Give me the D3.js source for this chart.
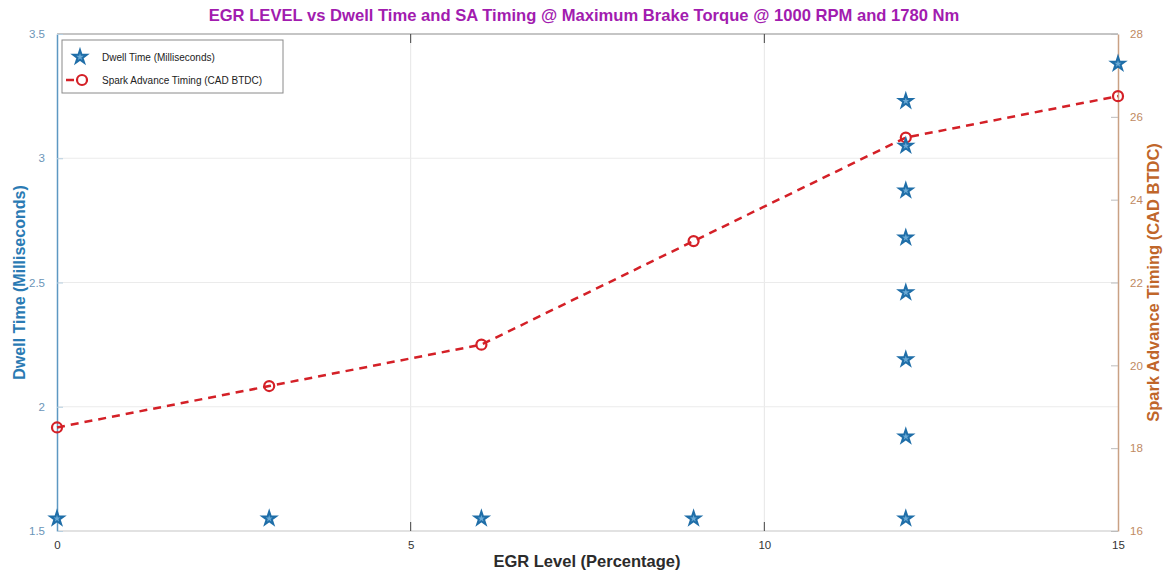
<!DOCTYPE html>
<html>
<head>
<meta charset="utf-8">
<script src="https://cdn.jsdelivr.net/npm/d3@7/dist/d3.min.js"></script>
<style>
  html, body { margin: 0; padding: 0; background: #fff; }
  svg { display: block; font-family: "Liberation Sans", Arial, sans-serif; }
</style>
</head>
<body>
<svg id="chart" width="1168" height="573"></svg>
<script>
// EGR level (%) for the dwell time samples
const dwellEgr = [0, 3, 6, 9, 12, 12, 12, 12, 12, 12, 12, 12, 15];
// Dwell time (ms)
const dwellTime = [1.55, 1.55, 1.55, 1.55, 1.55, 1.88, 2.19, 2.46, 2.68, 2.87, 3.05, 3.23, 3.38];
// EGR level (%) for spark advance
const saEgr = [0, 3, 6, 9, 12, 15];
// Spark advance timing (CAD BTDC)
const saTiming = [18.5, 19.5, 20.5, 23, 25.5, 26.5];

const xTicks = [0, 5, 10, 15];
const leftTicks = [1.5, 2, 2.5, 3, 3.5];
const rightTicks = [16, 18, 20, 22, 24, 26, 28];

const svg = d3.select("#chart");
const plot = { left: 57, right: 1118, top: 34, bottom: 531 };

const x = d3.scaleLinear().domain([0, 15]).range([plot.left, plot.right]);
const yL = d3.scaleLinear().domain([1.5, 3.5]).range([plot.bottom, plot.top]);
const yR = d3.scaleLinear().domain([16, 28]).range([plot.bottom, plot.top]);

const blue = "#1f6ea8";
const starFill = "#6aaad6";
const leftAxisCol = "#5d98c2";
const rightAxisCol = "#c9a184";
const orange = "#c0662a";
const red = "#d42027";

// grid
const grid = svg.append("g");
grid.selectAll("line.gx").data(xTicks.filter(d => d > 0 && d < 15)).join("line")
  .attr("x1", d => x(d)).attr("x2", d => x(d))
  .attr("y1", plot.top).attr("y2", plot.bottom)
  .attr("stroke", "#e6e6e6").attr("stroke-width", 1);
grid.selectAll("line.gy").data(leftTicks.filter(d => d > 1.5 && d < 3.5)).join("line")
  .attr("x1", plot.left).attr("x2", plot.right)
  .attr("y1", d => yL(d)).attr("y2", d => yL(d))
  .attr("stroke", "#ebebeb").attr("stroke-width", 1);

// frame: top and bottom
svg.append("line").attr("x1", plot.left).attr("x2", plot.right)
  .attr("y1", plot.top).attr("y2", plot.top).attr("stroke", "#8c8c8c").attr("stroke-width", 1.2);
svg.append("line").attr("x1", plot.left).attr("x2", plot.right)
  .attr("y1", plot.bottom).attr("y2", plot.bottom).attr("stroke", "#d9d9d9").attr("stroke-width", 1.5);

// x axis
const xAxis = d3.axisBottom(x).tickValues(xTicks).tickSize(0).tickPadding(10).tickFormat(d3.format("d"));
const gx = svg.append("g").attr("transform", `translate(0,${plot.bottom})`).call(xAxis);
gx.select(".domain").remove();
gx.selectAll("text").attr("font-size", 11.5).attr("fill", "#333");
// short inward x ticks at top and bottom
svg.selectAll("line.xt").data(xTicks.filter(d => d > 0 && d < 15)).join("line")
  .attr("x1", d => x(d)).attr("x2", d => x(d))
  .attr("y1", plot.bottom).attr("y2", plot.bottom - 9)
  .attr("stroke", "#444").attr("stroke-width", 1);
svg.selectAll("line.xt2").data(xTicks.filter(d => d > 0 && d < 15)).join("line")
  .attr("x1", d => x(d)).attr("x2", d => x(d))
  .attr("y1", plot.top).attr("y2", plot.top + 9)
  .attr("stroke", "#444").attr("stroke-width", 1);

// left axis
const lAxis = d3.axisLeft(yL).tickValues(leftTicks).tickSizeInner(-6).tickSizeOuter(0).tickPadding(12)
  .tickFormat(d3.format("~g"));
const gl = svg.append("g").attr("transform", `translate(${plot.left},0)`).call(lAxis);
gl.select(".domain").attr("stroke", leftAxisCol).attr("stroke-width", 1.5);
gl.selectAll(".tick line").attr("stroke", "#b7cfe0");
gl.selectAll("text").attr("font-size", 11.5).attr("fill", "#6b95b8");

// right axis
const rAxis = d3.axisRight(yR).tickValues(rightTicks).tickSizeInner(-7).tickSizeOuter(0).tickPadding(12);
const gr = svg.append("g").attr("transform", `translate(${plot.right},0)`).call(rAxis);
gr.select(".domain").attr("stroke", rightAxisCol).attr("stroke-width", 1.5);
gr.selectAll(".tick line").attr("stroke", "#bcbcbc");
gr.selectAll("text").attr("font-size", 11.5).attr("fill", "#c08a62");

// spark advance line
const line = d3.line().x((d, i) => x(saEgr[i])).y(d => yR(d));
svg.append("path").datum(saTiming)
  .attr("d", line).attr("fill", "none")
  .attr("stroke", red).attr("stroke-width", 2.5)
  .attr("stroke-dasharray", "8,6");
svg.selectAll("circle.sa").data(saTiming).join("circle")
  .attr("cx", (d, i) => x(saEgr[i])).attr("cy", d => yR(d))
  .attr("r", 5).attr("fill", "none").attr("stroke", red).attr("stroke-width", 2.2);

// dwell time stars
const star = d3.symbol().type(d3.symbolStar).size(55);
svg.selectAll("path.dw").data(dwellTime).join("path")
  .attr("d", star)
  .attr("transform", (d, i) => `translate(${x(dwellEgr[i])},${yL(d)})`)
  .attr("fill", starFill).attr("stroke", blue).attr("stroke-width", 2);

// legend
const lg = svg.append("g").attr("transform", "translate(62,40)");
lg.append("rect").attr("width", 221).attr("height", 53)
  .attr("fill", "#fff").attr("stroke", "#8a8a8a").attr("stroke-width", 1);
lg.append("path").attr("d", star).attr("transform", "translate(18,17)")
  .attr("fill", starFill).attr("stroke", blue).attr("stroke-width", 2);
lg.append("text").attr("x", 40).attr("y", 21).attr("font-size", 10).attr("fill", "#222")
  .text("Dwell Time (Milliseconds)");
lg.append("line").attr("x1", 4).attr("x2", 30).attr("y1", 40).attr("y2", 40)
  .attr("stroke", red).attr("stroke-width", 2.5).attr("stroke-dasharray", "8,6");
lg.append("circle").attr("cx", 20).attr("cy", 40).attr("r", 5)
  .attr("fill", "#fff").attr("stroke", red).attr("stroke-width", 2.2);
lg.append("text").attr("x", 40).attr("y", 44).attr("font-size", 10).attr("fill", "#222")
  .text("Spark Advance Timing (CAD BTDC)");

// titles
svg.append("text").attr("x", 584).attr("y", 21).attr("text-anchor", "middle")
  .attr("font-size", 16.6).attr("font-weight", "bold").attr("fill", "#a21caf")
  .text("EGR LEVEL vs Dwell Time and SA Timing @ Maximum Brake Torque @ 1000 RPM and 1780 Nm");
svg.append("text").attr("x", 587).attr("y", 567).attr("text-anchor", "middle")
  .attr("font-size", 16.5).attr("font-weight", "bold").attr("fill", "#2b2b2b")
  .text("EGR Level (Percentage)");
svg.append("text").attr("transform", `translate(25,${(plot.top + plot.bottom) / 2}) rotate(-90)`)
  .attr("text-anchor", "middle").attr("font-size", 16).attr("font-weight", "bold").attr("fill", "#2a7ab3")
  .text("Dwell Time (Milliseconds)");
svg.append("text").attr("transform", `translate(1159,${(plot.top + plot.bottom) / 2}) rotate(-90)`)
  .attr("text-anchor", "middle").attr("font-size", 16.5).attr("font-weight", "bold").attr("fill", orange)
  .text("Spark Advance Timing (CAD BTDC)");
</script>
</body>
</html>
